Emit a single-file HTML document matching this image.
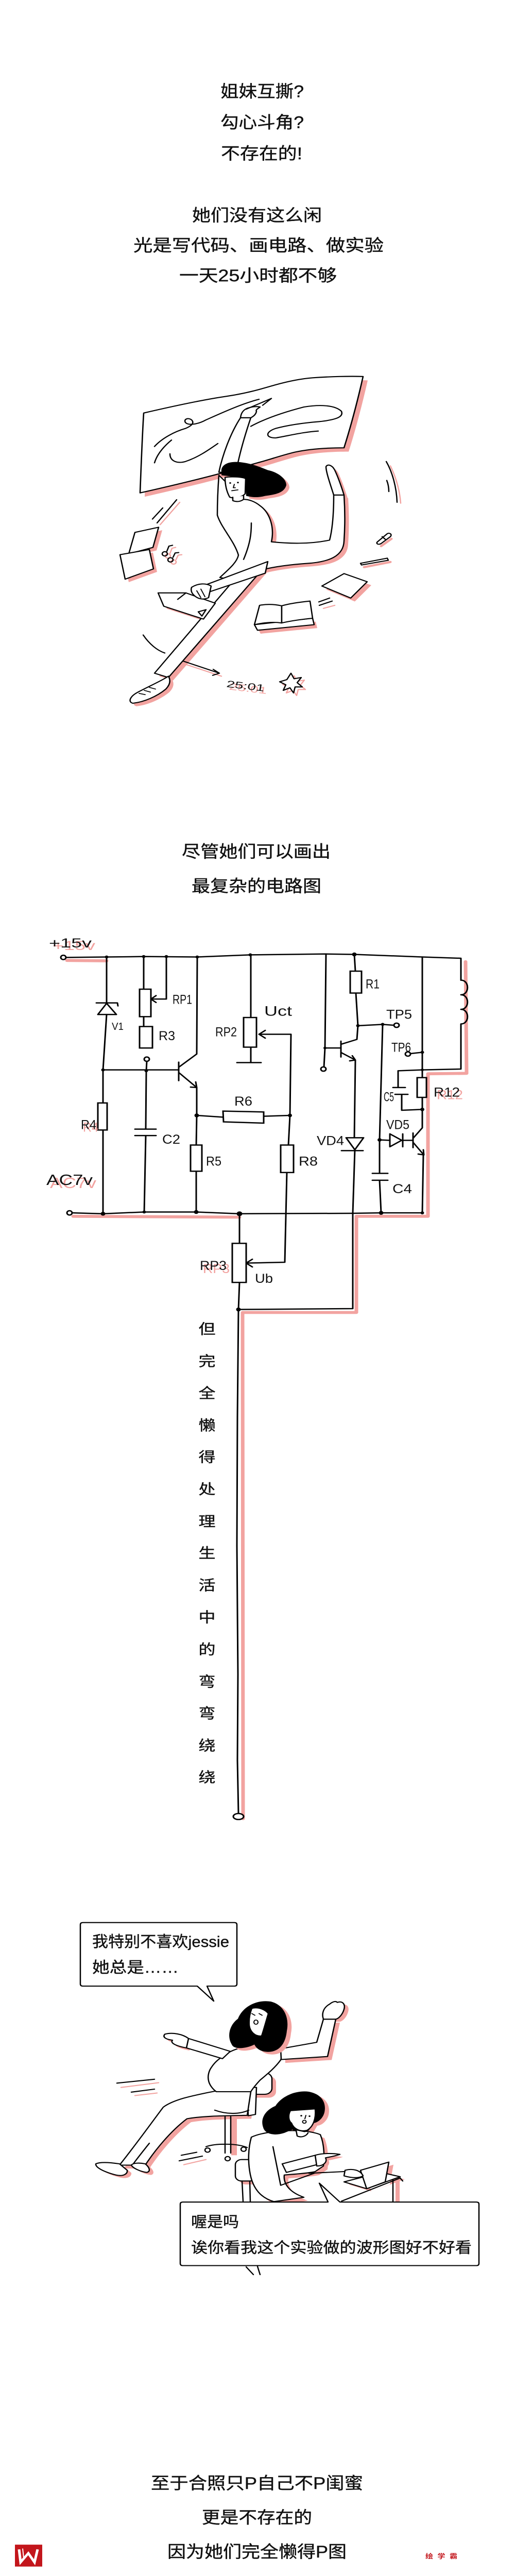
<!DOCTYPE html>
<html>
<head>
<meta charset="utf-8">
<style>
html,body{margin:0;padding:0;width:100%;height:100%;overflow:hidden;background:#fff;}
svg{position:absolute;left:0;top:0;width:100vw;height:100vh;display:block;}
.t{font-family:"Liberation Sans","Noto Sans CJK SC",sans-serif;fill:#111;stroke:#111;stroke-width:0.5px;}
.h{font-family:"Liberation Sans","Noto Sans CJK SC",sans-serif;fill:#111;}
.hp{font-family:"Liberation Sans","Noto Sans CJK SC",sans-serif;fill:#f2a3a0;}
</style>
</head>
<body>
<svg viewBox="0 0 1000 6000" preserveAspectRatio="none" xmlns="http://www.w3.org/2000/svg">
<rect x="0" y="0" width="1000" height="6000" fill="#fff"/>

<!-- ===== Top text ===== -->
<g class="t" font-size="39">
<text x="428" y="226" textLength="162" lengthAdjust="spacingAndGlyphs">姐妹互撕?</text>
<text x="428" y="298" textLength="162" lengthAdjust="spacingAndGlyphs">勾心斗角?</text>
<text x="429" y="371" textLength="158" lengthAdjust="spacingAndGlyphs">不存在的!</text>
<text x="373" y="515" textLength="252" lengthAdjust="spacingAndGlyphs">她们没有这么闲</text>
<text x="259" y="585" textLength="486" lengthAdjust="spacingAndGlyphs">光是写代码、画电路、做实验</text>
<text x="348" y="655" textLength="306" lengthAdjust="spacingAndGlyphs">一天25小时都不够</text>
</g>

<!-- ===== Illustration 1 ===== -->
<g stroke-linecap="round" stroke-linejoin="round">
<path transform="translate(9,9)" fill="#f2a3a0" stroke="none" d="M279,962 C340,945 400,930 440,923 C480,916 510,905 533,897 C560,888 585,882 607,880 C640,877 680,876 705,877 C695,930 682,990 668,1043 C630,1043 600,1046 573,1053 C548,1060 525,1070 500,1078 C470,1088 450,1096 427,1103 C380,1118 320,1135 272,1148 C274,1085 276,1020 279,962 Z"/>
<path fill="#fff" stroke="#000" stroke-width="2.6" d="M279,962 C340,945 400,930 440,923 C480,916 510,905 533,897 C560,888 585,882 607,880 C640,877 680,876 705,877 C695,930 682,990 668,1043 C630,1043 600,1046 573,1053 C548,1060 525,1070 500,1078 C470,1088 450,1096 427,1103 C380,1118 320,1135 272,1148 C274,1085 276,1020 279,962 Z"/>
<g fill="none" stroke="#000" stroke-width="2.5">
<path d="M300,1040 C315,1020 340,1005 360,998 C372,992 378,985 372,978 C366,972 356,976 360,984 C366,992 385,988 400,978 C430,962 470,940 503,930"/>
<path d="M333,1025 C318,1040 305,1058 300,1078"/>
<path d="M330,1057 C330,1075 345,1080 360,1075 C385,1065 405,1048 423,1033"/>
<path d="M487,993 C510,978 545,962 590,948 C620,942 650,943 663,958 C668,972 650,978 620,982 C590,985 560,990 535,998 C515,1006 515,1020 535,1020 C560,1015 590,1006 618,1004"/>
</g>
<g fill="none" stroke-width="2.5">
<path stroke="#f2a3a0" d="M311,1222 L349,1170"/>
<path stroke="#000" d="M296,1209 L316,1183 M305,1218 L343,1164"/>
</g>
<path transform="translate(7,7)" fill="#f2a3a0" d="M233,1292 L290,1280 L298,1325 L243,1349 Z M262,1240 L308,1228 L297,1275 L250,1290 Z"/>
<path fill="#fff" stroke="#000" stroke-width="2.5" d="M262,1240 L308,1228 L297,1275 L250,1290 Z"/>
<path fill="#fff" stroke="#000" stroke-width="2.5" d="M233,1292 L290,1280 L298,1325 L243,1349 Z"/>
<g fill="none" stroke-width="2.5">
<g stroke="#f2a3a0" transform="translate(6,5)"><circle cx="320" cy="1290" r="5"/><circle cx="331" cy="1304" r="5"/><path d="M324,1284 L328,1272 L335,1270 M336,1298 L340,1288 L347,1287"/></g>
<g stroke="#000"><circle cx="320" cy="1290" r="5"/><circle cx="331" cy="1304" r="5"/><path d="M324,1284 L328,1272 L335,1270 M336,1298 L340,1288 L347,1287"/></g>
</g>
<g fill="none" stroke-width="2.5">
<path stroke="#f2a3a0" d="M758,1085 C768,1110 776,1140 778,1172"/>
<path stroke="#000" d="M750,1075 C762,1100 770,1135 771,1170 M751,1119 C754,1128 755,1137 755,1145"/>
<path stroke="#f2a3a0" stroke-width="5" d="M740,1272 L760,1255"/>
<path stroke="#000" fill="#fff" d="M733,1262 L752,1243 C757,1240 762,1245 758,1250 L740,1266 C735,1270 729,1266 733,1262 Z M742,1250 L749,1257"/>
<path stroke="#f2a3a0" stroke-width="5" d="M707,1321 L758,1309"/>
<path stroke="#000" fill="#fff" d="M700,1312 L752,1300 L754,1305 L702,1316 Z"/>
</g>
<path transform="translate(8,8)" fill="#f2a3a0" d="M625,1365 L668,1336 L713,1355 L681,1393 Z"/>
<path fill="#fff" stroke="#000" stroke-width="2.5" d="M625,1365 L668,1336 L713,1355 L681,1393 Z"/>
<g fill="none" stroke-width="2.5">
<path stroke="#000" d="M619,1402 L640,1393 M620,1410 L645,1400"/>
<path stroke="#f2a3a0" d="M628,1417 L650,1410"/>
</g>
<path transform="translate(6,8)" fill="#f2a3a0" d="M494,1455 L500,1468 L610,1455 L607,1440 Z"/>
<g fill="#fff" stroke="#000" stroke-width="2.5">
<path d="M494,1455 L500,1468 L610,1455 L607,1440 Z"/>
<path d="M504,1410 C520,1406 535,1408 547,1411 L547,1451 C530,1448 512,1450 494,1455 Z"/>
<path d="M547,1411 C565,1405 585,1402 602,1400 L607,1440 C590,1442 565,1446 547,1451 Z"/>
</g>
<g fill="#f2a3a0">
<path transform="translate(9,7)" d="M509,1327 L327,1578 L300,1568 L455,1350 Z"/>
<path transform="translate(8,7)" d="M425,1107 C423,1140 422,1170 422,1200 C430,1230 455,1260 463,1293 C460,1310 445,1325 427,1345 L455,1352 C480,1340 495,1337 509,1327 C540,1318 575,1314 600,1312 C640,1308 667,1295 668,1260 C670,1225 670,1190 668,1153 L648,1153 C648,1190 646,1230 640,1258 C600,1268 560,1266 527,1262 C533,1230 525,1195 505,1178 C495,1168 483,1163 473,1163 Z"/>
<path transform="translate(7,7)" d="M648,1153 C642,1130 633,1100 633,1087 C636,1080 645,1083 650,1095 C656,1110 662,1130 668,1153 Z"/>
<path transform="translate(7,7)" d="M327,1575 C315,1585 290,1598 268,1612 C252,1622 248,1635 258,1638 C280,1635 305,1622 322,1605 C330,1595 332,1585 327,1575 Z"/>
<path transform="translate(6,6)" d="M307,1381 L361,1381 L418,1405 L395,1442 L318,1412 Z"/>
</g>
<path fill="#fff" stroke="#000" stroke-width="2.5" d="M425,1100 C432,1060 447,1010 467,973 L487,973 C478,1005 468,1045 462,1078 L460,1100 Z"/>
<path fill="#fff" stroke="#000" stroke-width="2.5" d="M467,973 C468,962 472,955 480,951 C490,947 500,946 505,948 C500,952 496,955 498,958 C497,965 492,970 487,973 Z"/>
<path fill="none" stroke="#000" stroke-width="2.5" d="M478,953 L527,928 L510,944"/>
<path fill="#fff" stroke="#000" stroke-width="2.5" d="M509,1327 L327,1578 L300,1568 L455,1350 Z"/>
<path fill="#fff" stroke="#000" stroke-width="2.5" d="M425,1107 C423,1140 422,1170 422,1200 C430,1230 455,1260 463,1293 C460,1310 445,1325 427,1345 L455,1352 C480,1340 495,1337 509,1327 C540,1318 575,1314 600,1312 C640,1308 667,1295 668,1260 C670,1225 670,1190 668,1153 L648,1153 C648,1190 646,1230 640,1258 C600,1268 560,1266 527,1262 C533,1230 525,1195 505,1178 C495,1168 483,1163 473,1163 Z"/>
<path fill="none" stroke="#000" stroke-width="2.5" d="M488,1218 C488,1240 487,1263 473,1303"/>
<path fill="#fff" stroke="#000" stroke-width="2.5" d="M648,1153 C642,1130 633,1100 633,1087 C636,1080 645,1083 650,1095 C656,1110 662,1130 668,1153 Z"/>
<path transform="translate(6,6)" fill="#f2a3a0" d="M430,1100 C428,1085 440,1075 460,1076 C480,1077 500,1085 520,1095 C540,1100 556,1115 556,1130 C552,1148 535,1152 515,1155 C500,1160 488,1158 478,1155 L476,1120 C470,1110 450,1110 430,1107 Z"/>
<path fill="#000" d="M430,1100 C428,1085 440,1075 460,1076 C480,1077 500,1085 520,1095 C540,1100 556,1115 556,1130 C552,1148 535,1152 515,1155 C500,1160 488,1158 478,1155 L476,1120 C470,1110 450,1110 430,1107 Z"/>
<path fill="#fff" stroke="#000" stroke-width="2.5" d="M437,1112 C445,1110 470,1110 477,1115 L476,1150 C470,1158 455,1162 446,1158 C440,1145 437,1128 437,1112 Z"/>
<circle cx="447" cy="1125" r="1.8" fill="#000"/><circle cx="462" cy="1124" r="1.8" fill="#000"/>
<path fill="none" stroke="#000" stroke-width="2" d="M455,1128 L453,1136 L457,1136 M450,1143 L462,1141"/>
<path fill="#fff" stroke="#000" stroke-width="2.5" d="M452,1158 L452,1166 C460,1170 468,1168 473,1163 L473,1155"/>
<path fill="#fff" stroke="#000" stroke-width="2.5" d="M520,1308 L400,1362 L408,1378 L515,1335 Z"/>
<path fill="#fff" stroke="#000" stroke-width="2.5" d="M307,1381 L361,1381 L418,1405 L395,1442 L318,1412 Z"/>
<path fill="none" stroke="#000" stroke-width="2.5" d="M361,1381 L345,1396 M385,1425 L400,1420 L392,1435 Z"/>
<path fill="#fff" stroke="#000" stroke-width="2.5" d="M372,1368 C385,1358 400,1358 410,1365 L405,1392 C395,1398 385,1395 378,1388 C372,1382 370,1375 372,1368 Z"/>
<path fill="none" stroke="#000" stroke-width="2" d="M382,1376 L390,1392 M390,1372 L398,1390"/>
<path fill="#fff" stroke="#000" stroke-width="2.5" d="M327,1575 C315,1585 290,1598 268,1612 C252,1622 248,1635 258,1638 C280,1635 305,1622 322,1605 C330,1595 332,1585 327,1575 Z"/>
<path fill="none" stroke="#000" stroke-width="2" d="M270,1615 L282,1618 M280,1608 L292,1612 M290,1601 L302,1605"/>
<g fill="none" stroke-width="2.5">
<path stroke="#000" d="M278,1479 C290,1500 305,1515 320,1521"/>
<path stroke="#f2a3a0" d="M362,1548 L430,1575"/>
<path stroke="#000" d="M356,1540 L426,1568 M414,1559 L426,1568 L413,1573"/>
</g>
<text x="444" y="1606" font-size="22" class="hp" transform="rotate(8 444 1606)" textLength="74" lengthAdjust="spacingAndGlyphs">25:01</text>
<text x="439" y="1600" font-size="22" class="h" transform="rotate(8 439 1600)" textLength="74" lengthAdjust="spacingAndGlyphs">25:01</text>
<path transform="translate(6,6)" fill="none" stroke="#f2a3a0" stroke-width="2.5" d="M565,1568 L571,1581 L585,1578 L577,1590 L587,1600 L573,1600 L570,1614 L563,1602 L550,1608 L555,1595 L543,1588 L557,1583 Z"/>
<path fill="#fff" stroke="#000" stroke-width="2.5" d="M565,1568 L571,1581 L585,1578 L577,1590 L587,1600 L573,1600 L570,1614 L563,1602 L550,1608 L555,1595 L543,1588 L557,1583 Z"/>
</g>

<!-- ===== Middle text ===== -->
<g class="t" font-size="39">
<text x="353" y="1997" textLength="289" lengthAdjust="spacingAndGlyphs">尽管她们可以画出</text>
<text x="372" y="2077" textLength="252" lengthAdjust="spacingAndGlyphs">最复杂的电路图</text>
</g>

<!-- ===== Circuit ===== -->
<g fill="none" stroke="#f2a3a0" stroke-width="7" stroke-linecap="round" stroke-linejoin="round">
<path d="M130,2237 L207,2238"/>
<path d="M142,2833 L465,2835"/>
<path d="M904,2240 L906,2500 L831,2501 L831,2833 L692,2833 L692,3057 L471,3057 L472,4236"/>
</g>
<g fill="none" stroke="#000" stroke-width="3" stroke-linecap="round" stroke-linejoin="round">
<path d="M128,2230 L207,2229 L280,2228 L383,2229 L486,2224 L633,2222 L688,2223 L820,2229 L895,2232 L895,2283"/>
<circle cx="123" cy="2230" r="5" fill="#fff"/>
<path d="M207,2229 L207,2337 M207,2363 L200,2492 L200,2827"/>
<path d="M190,2363 L226,2363 L207,2337 Z"/>
<path d="M187,2336 L228,2336 L229,2343"/>
<path d="M200,2492 L347,2492"/>
<path d="M279,2228 L279,2304 M279,2368 L279,2391"/>
<path d="M323,2228 L323,2327 L293,2327 M303,2319 L293,2327 L303,2335"/>
<circle cx="285" cy="2467" r="5" fill="#fff"/>
<path d="M285,2472 L284,2494 L283,2630 M262,2630 L303,2630 M262,2645 L303,2645 M283,2645 L280,2823"/>
<path d="M347,2474 L347,2517 M348,2485 L382,2455 L383,2229 M348,2499 L382,2533 M370,2532 L382,2533 L380,2520 M382,2533 L382,2598 L433,2602 M512,2600 L563,2598"/>
<path d="M382,2598 L381,2667 M381,2728 L381,2823"/>
<circle cx="135" cy="2825" r="5" fill="#fff"/>
<path d="M140,2825 L200,2827 L280,2823 L381,2823 L465,2827 L685,2826 L740,2825 L820,2825"/>
<path d="M487,2224 L487,2370 M487,2439 L487,2475 M460,2475 L507,2475"/>
<path d="M503,2409 L565,2409 L563,2598 M515,2400 L503,2409 L515,2418"/>
<path d="M563,2598 L560,2667 M557,2731 L553,2940 L478,2942 M490,2933 L478,2942 L490,2951"/>
<path d="M465,2827 L465,2896 M465,2987 L463,3050"/>
<path d="M463,3050 L685,3048 L685,2826"/>
<path d="M463,3050 L461,3300 L460,3600 L462,3900 L461,4100 L463,4224"/>
<ellipse cx="463" cy="4231" rx="10" ry="7" fill="#fff"/>
<path d="M633,2222 L631,2441 L629,2485 M631,2441 L662,2441"/>
<circle cx="628" cy="2490" r="5" fill="#fff"/>
<path d="M662,2425 L662,2462 M663,2432 L693,2421 L695,2389 M663,2452 L690,2469 M679,2471 L690,2469 L684,2459 M690,2469 L688,2650 M689,2678 L685,2826"/>
<path d="M672,2650 L706,2650 L689,2678 Z M663,2680 L705,2680"/>
<path d="M688,2223 L690,2262 M691,2313 L695,2389 L743,2386 L765,2388"/>
<circle cx="770" cy="2388" r="5" fill="#fff"/>
<path d="M743,2386 L737,2655 L737,2733 M723,2733 L753,2733 M723,2749 L753,2749 M737,2749 L740,2825"/>
<path d="M737,2655 L757,2656 M757,2641 L757,2671 L780,2656 Z M782,2641 L782,2671 M782,2656 L802,2656"/>
<path d="M802,2639 L802,2673 M803,2650 L820,2627 L820,2584 M803,2662 L823,2690 M812,2688 L823,2690 L822,2678 M822,2690 L820,2825"/>
<path d="M820,2229 L820,2510 M820,2556 L820,2584"/>
<path d="M797,2454 L820,2451"/>
<circle cx="792" cy="2455" r="5" fill="#fff"/>
<path d="M773,2494 L820,2492 M773,2494 L773,2533 M763,2533 L787,2533 M767,2549 L792,2549 M780,2549 L780,2586 L820,2584"/>
<path d="M895,2283 C912,2283 912,2317 895,2317 C912,2317 912,2351 895,2351 C912,2351 912,2385 895,2385 L895,2490 L820,2492"/>
</g>
<g fill="#fff" stroke="#000" stroke-width="3">
<rect x="190" y="2569" width="18" height="63"/>
<rect x="271" y="2304" width="22" height="64"/>
<rect x="271" y="2391" width="25" height="50"/>
<path d="M433,2588 L512,2590 L512,2616 L434,2613 Z"/>
<rect x="370" y="2667" width="22" height="61"/>
<rect x="473" y="2370" width="25" height="69"/>
<rect x="545" y="2667" width="25" height="64"/>
<rect x="451" y="2896" width="27" height="91"/>
<rect x="680" y="2262" width="22" height="51"/>
<rect x="810" y="2510" width="18" height="46"/>
</g>
<g fill="#000">
<circle cx="207" cy="2229" r="3.5"/><circle cx="279" cy="2228" r="3.5"/><circle cx="323" cy="2228" r="3.5"/>
<circle cx="383" cy="2229" r="3.5"/><circle cx="486" cy="2224" r="3.5"/><circle cx="688" cy="2223" r="4.5"/>
<circle cx="200" cy="2492" r="3.5"/><circle cx="284" cy="2494" r="3.5"/><circle cx="382" cy="2598" r="4.5"/>
<circle cx="563" cy="2598" r="4"/><circle cx="200" cy="2827" r="4.5"/><circle cx="280" cy="2823" r="3.5"/>
<circle cx="381" cy="2823" r="4.5"/><circle cx="465" cy="2827" r="5.5"/><circle cx="740" cy="2825" r="4.5"/>
<circle cx="820" cy="2825" r="3.5"/><circle cx="695" cy="2389" r="3.5"/><circle cx="743" cy="2386" r="3.5"/>
<circle cx="737" cy="2655" r="4"/><circle cx="820" cy="2584" r="4"/><circle cx="820" cy="2451" r="3.5"/>
<circle cx="463" cy="3050" r="4.5"/><circle cx="631" cy="2441" r="3"/><circle cx="820" cy="2492" r="3"/>
</g>
<g font-size="30">
<text class="hp" x="102" y="2213" textLength="83" lengthAdjust="spacingAndGlyphs">+15v</text>
<text class="h" x="95" y="2207" textLength="83" lengthAdjust="spacingAndGlyphs">+15v</text>
<text class="hp" x="97" y="2767" font-size="34" textLength="90" lengthAdjust="spacingAndGlyphs">AC7v</text>
<text class="h" x="90" y="2760" font-size="34" textLength="90" lengthAdjust="spacingAndGlyphs">AC7v</text>
<text class="hp" x="161" y="2636" textLength="30" lengthAdjust="spacingAndGlyphs">R4</text>
<text class="h" x="157" y="2630" textLength="30" lengthAdjust="spacingAndGlyphs">R4</text>
<text class="hp" x="394" y="2965" textLength="52" lengthAdjust="spacingAndGlyphs">RP3</text>
<text class="h" x="388" y="2958" textLength="52" lengthAdjust="spacingAndGlyphs">RP3</text>
<text class="hp" x="848" y="2560" textLength="51" lengthAdjust="spacingAndGlyphs">R12</text>
<text class="h" x="842" y="2554" textLength="51" lengthAdjust="spacingAndGlyphs">R12</text>
<text class="h" x="217" y="2399" font-size="24" textLength="23" lengthAdjust="spacingAndGlyphs">V1</text>
<text class="h" x="335" y="2338" textLength="38" lengthAdjust="spacingAndGlyphs">RP1</text>
<text class="h" x="308" y="2423" textLength="32" lengthAdjust="spacingAndGlyphs">R3</text>
<text class="h" x="315" y="2664" textLength="35" lengthAdjust="spacingAndGlyphs">C2</text>
<text class="h" x="455" y="2575" textLength="35" lengthAdjust="spacingAndGlyphs">R6</text>
<text class="h" x="400" y="2715" textLength="30" lengthAdjust="spacingAndGlyphs">R5</text>
<text class="h" x="418" y="2414" textLength="42" lengthAdjust="spacingAndGlyphs">RP2</text>
<text class="h" x="513" y="2366" font-size="32" textLength="54" lengthAdjust="spacingAndGlyphs">Uct</text>
<text class="h" x="580" y="2715" textLength="37" lengthAdjust="spacingAndGlyphs">R8</text>
<text class="h" x="495" y="2988" textLength="35" lengthAdjust="spacingAndGlyphs">Ub</text>
<text class="h" x="710" y="2302" textLength="27" lengthAdjust="spacingAndGlyphs">R1</text>
<text class="h" x="750" y="2373" textLength="50" lengthAdjust="spacingAndGlyphs">TP5</text>
<text class="h" x="760" y="2450" textLength="38" lengthAdjust="spacingAndGlyphs">TP6</text>
<text class="h" x="745" y="2565" textLength="20" lengthAdjust="spacingAndGlyphs">C5</text>
<text class="h" x="750" y="2630" textLength="45" lengthAdjust="spacingAndGlyphs">VD5</text>
<text class="h" x="615" y="2667" textLength="53" lengthAdjust="spacingAndGlyphs">VD4</text>
<text class="h" x="762" y="2779" textLength="38" lengthAdjust="spacingAndGlyphs">C4</text>
</g>

<!-- ===== Vertical column text ===== -->
<g class="t" font-size="33" text-anchor="middle">
<text x="402" y="3107">但</text>
<text x="402" y="3182">完</text>
<text x="402" y="3256">全</text>
<text x="402" y="3331">懒</text>
<text x="402" y="3405">得</text>
<text x="402" y="3480">处</text>
<text x="402" y="3555">理</text>
<text x="402" y="3629">生</text>
<text x="402" y="3704">活</text>
<text x="402" y="3778">中</text>
<text x="402" y="3853">的</text>
<text x="402" y="3928">弯</text>
<text x="402" y="4002">弯</text>
<text x="402" y="4077">绕</text>
<text x="402" y="4151">绕</text>
</g>

<!-- ===== Illustration 2 ===== -->
<g stroke-linecap="round" stroke-linejoin="round">
<path fill="#fff" stroke="#000" stroke-width="2.5" d="M161,4478 L455,4478 Q460,4478 460,4483 L460,4621 Q460,4626 455,4626 L402,4626 L415,4661 L383,4626 L161,4626 Q156,4626 156,4621 L156,4483 Q156,4478 161,4478 Z"/>
<g fill="none" stroke-width="2.5">
<path stroke="#f2a3a0" d="M235,4862 L308,4851 M262,4881 L305,4875 M357,5042 L400,5030"/>
<path stroke="#000" d="M227,4852 L300,4843 M255,4873 L300,4866 M352,5020 L382,5013 M348,5033 L393,5022"/>
</g>
<g fill="#f2a3a0">
<path transform="translate(8,8)" d="M420,4870 C380,4880 340,4888 317,4908 C292,4948 262,4998 232,5043 L282,5043 C300,5010 330,4965 363,4935 C395,4928 440,4928 480,4927 L487,4872 Z"/>
<path transform="translate(8,8)" d="M545,4772 L615,4757 L628,4703 L652,4703 L636,4790 L546,4797 Z"/>
<path transform="translate(8,6)" d="M628,4703 C624,4690 628,4676 640,4668 C646,4662 652,4660 655,4664 C665,4660 671,4668 668,4680 C665,4693 657,4702 652,4703 Z"/>
<path transform="translate(6,6)" d="M366,4748 C355,4738 335,4733 320,4738 C315,4745 322,4750 335,4752 C330,4758 340,4765 362,4770 Z"/>
<rect x="466" y="4836" width="70" height="50" rx="14"/>
<path transform="translate(8,6)" d="M232,5040 C215,5037 195,5035 186,5040 C185,5048 200,5058 225,5066 C240,5070 248,5063 247,5055 Z M282,5040 C270,5037 258,5038 255,5043 C258,5050 272,5058 285,5060 C292,5058 292,5050 282,5040 Z"/>
<rect x="449" y="4935" width="11" height="85"/>
</g>
<g fill="#fff" stroke="#000" stroke-width="2.5">
<path fill="none" d="M437,4930 L437,5015 M448,4930 L448,5015 M400,5000 C420,4992 460,4992 480,5002"/>
<circle cx="403" cy="5008" r="5"/><circle cx="473" cy="5006" r="5"/><circle cx="442" cy="5028" r="5"/>
<rect x="458" y="4828" width="70" height="50" rx="14"/>
<path d="M480,4862 L498,4862 L496,4925 L482,4928 Z"/>
</g>
<g fill="#fff" stroke="#000" stroke-width="2.5">
<path d="M420,4870 C380,4880 340,4888 317,4908 C292,4948 262,4998 232,5043 L282,5043 C300,5010 330,4965 363,4935 C395,4928 440,4928 480,4927 L487,4872 Z"/>
<path fill="none" d="M290,4992 C278,5010 266,5028 257,5043 M417,4915 C440,4925 465,4925 483,4915"/>
<path d="M232,5040 C215,5037 195,5035 186,5040 C185,5048 200,5058 225,5066 C240,5070 248,5063 247,5055 Z"/>
<path d="M282,5040 C270,5037 258,5038 255,5043 C258,5050 272,5058 285,5060 C292,5058 292,5050 282,5040 Z"/>
<path d="M430,4792 C445,4778 460,4770 480,4768 L545,4772 C548,4782 548,4790 545,4798 C535,4815 520,4830 505,4845 C495,4858 490,4866 487,4872 L420,4872 C405,4858 400,4840 408,4820 C414,4808 420,4800 430,4792 Z"/>
<path d="M432,4795 L362,4770 L366,4748 L447,4778 Z"/>
<path d="M366,4748 C355,4738 335,4733 320,4738 C315,4745 322,4750 335,4752 C330,4758 340,4765 362,4770 Z"/>
<path d="M545,4772 L615,4757 L628,4703 L652,4703 L636,4790 L546,4797 Z"/>
<path d="M628,4703 C624,4690 628,4676 640,4668 C646,4662 652,4660 655,4664 C665,4660 671,4668 668,4680 C665,4693 657,4702 652,4703 Z"/>
</g>
<path transform="translate(8,6)" fill="#f2a3a0" d="M450,4762 C440,4742 446,4716 462,4702 C472,4672 500,4657 526,4662 C552,4670 562,4700 557,4730 C555,4755 546,4776 525,4779 C508,4781 498,4772 494,4762 C482,4770 455,4776 450,4762 Z"/>
<path fill="#000" d="M450,4762 C440,4742 446,4716 462,4702 C472,4672 500,4657 526,4662 C552,4670 562,4700 557,4730 C555,4755 546,4776 525,4779 C508,4781 498,4772 494,4762 C482,4770 455,4776 450,4762 Z"/>
<path fill="#fff" stroke="#000" stroke-width="2.5" d="M489,4678 C500,4674 515,4680 521,4690 C516,4710 512,4728 508,4742 C496,4744 486,4733 484,4718 C483,4703 485,4690 489,4678 Z"/>
<ellipse cx="497" cy="4710" rx="4" ry="5" fill="#fff" stroke="#000" stroke-width="2"/>
<path fill="none" stroke="#000" stroke-width="2" d="M489,4690 L495,4694 M503,4690 L509,4694"/>

<g fill="#f2a3a0">
<path transform="translate(8,8)" d="M488,4978 C515,4962 590,4956 622,4972 C630,4995 630,5025 628,5045 L612,5058 C600,5062 570,5064 552,5066 C550,5085 560,5105 590,5118 L532,5128 C508,5120 492,5100 486,5065 C481,5035 482,5003 488,4978 Z"/>
<path transform="translate(8,6)" d="M511,4955 C505,4935 515,4915 535,4905 C547,4882 575,4868 600,4872 C625,4878 634,4898 630,4920 C627,4935 616,4945 608,4945 L600,4962 C590,4970 575,4968 568,4960 L552,4968 C532,4976 514,4970 511,4955 Z"/>
<path transform="translate(9,6)" d="M668,5082 L712,5098 L777,5070 L740,5060 Z M700,5055 L755,5036 L748,5082 L712,5098 Z"/>
<rect x="768" y="5078" width="8" height="50"/>
<rect x="465" y="5038" width="40" height="50" rx="12"/>
<path transform="translate(6,6)" d="M612,5020 C625,5015 645,5015 660,5018 C650,5022 640,5024 632,5026 C636,5034 630,5045 615,5045 Z"/>
</g>
<g fill="#fff" stroke="#000" stroke-width="2.5">
<rect x="457" y="5030" width="40" height="50" rx="12"/>
<path fill="none" d="M470,5080 L472,5128 M485,5080 L486,5128"/>
<path d="M488,4978 C515,4962 590,4956 622,4972 C630,4995 630,5025 628,5045 L612,5058 C600,5062 570,5064 552,5066 C550,5085 560,5105 590,5118 L532,5128 C508,5120 492,5100 486,5065 C481,5035 482,5003 488,4978 Z"/>
<path fill="none" d="M530,5000 L545,5090 L610,5062 M600,5062 L668,5058"/>
<path d="M548,5040 L612,5020 L615,5042 L556,5060 Z"/>
<path d="M612,5020 C625,5015 645,5015 660,5018 C650,5022 640,5024 632,5026 C636,5034 630,5045 615,5045 Z"/>
<path d="M668,5082 L712,5098 L777,5070 L740,5060 Z"/>
<path d="M712,5098 L700,5055 L755,5036 L748,5082 Z"/>
<path d="M670,5055 C685,5050 700,5055 705,5068 C695,5075 680,5072 668,5068 Z"/>
<path fill="none" d="M663,5127 L777,5073 L782,5080 M763,5078 L763,5128"/>
</g>
<path fill="#000" d="M511,4955 C505,4935 515,4915 535,4905 C547,4882 575,4868 600,4872 C625,4878 634,4898 630,4920 C627,4935 616,4945 608,4945 L600,4962 C590,4970 575,4968 568,4960 L552,4968 C532,4976 514,4970 511,4955 Z"/>
<path fill="#fff" stroke="#000" stroke-width="2.5" d="M564,4916 L612,4912 C614,4935 608,4954 596,4962 C582,4966 570,4958 566,4945 C560,4940 559,4926 564,4916 Z"/>
<circle cx="585" cy="4928" r="1.8" fill="#000"/><circle cx="601" cy="4929" r="1.8" fill="#000"/>
<circle cx="591" cy="4942" r="3.5" fill="#fff" stroke="#000" stroke-width="2"/>
<path fill="none" stroke="#000" stroke-width="2" d="M594,4927 L592,4935"/>
<path fill="#fff" stroke="#000" stroke-width="2.5" d="M575,4962 L577,4975 C585,4980 595,4975 598,4968"/>

<path fill="#fff" stroke="#000" stroke-width="2.5" d="M355,5129 L637,5129 L620,5085 L660,5129 L925,5129 Q930,5129 930,5134 L930,5272 Q930,5277 925,5277 L355,5277 Q350,5277 350,5272 L350,5134 Q350,5129 355,5129 Z"/>
<path fill="none" stroke="#000" stroke-width="2.5" d="M478,5280 L492,5298 M500,5279 L505,5298"/>
</g>

<g class="t">
<text x="179" y="4535" font-size="36" textLength="266" lengthAdjust="spacingAndGlyphs">我特别不喜欢jessie</text>
<text x="179" y="4595" font-size="36" textLength="168" lengthAdjust="spacingAndGlyphs">她总是……</text>
<text x="371" y="5187" font-size="35" textLength="93" lengthAdjust="spacingAndGlyphs">喔是吗</text>
<text x="371" y="5247" font-size="35" textLength="545" lengthAdjust="spacingAndGlyphs">诶你看我这个实验做的波形图好不好看</text>
</g>

<!-- ===== Footer ===== -->
<g class="t" font-size="39">
<text x="293" y="5797" textLength="412" lengthAdjust="spacingAndGlyphs">至于合照只P自己不P闺蜜</text>
<text x="392" y="5877" textLength="214" lengthAdjust="spacingAndGlyphs">更是不存在的</text>
<text x="325" y="5957" textLength="348" lengthAdjust="spacingAndGlyphs">因为她们完全懒得P图</text>
</g>
<rect x="29" y="5927" width="53" height="51" fill="#c3161c"/>
<path fill="none" stroke="#fff" stroke-width="5" stroke-linejoin="miter" d="M37,5938 L40,5968 L55,5947 L67,5968 L73,5938"/>
<path fill="none" stroke="#fff" stroke-width="2" d="M44,5936 L46,5958"/>
<text x="826" y="5959" font-size="15" font-weight="bold" fill="#c3161c" font-family="'Liberation Sans','Noto Sans CJK SC',sans-serif" textLength="62" lengthAdjust="spacing">绘学霸</text>
</svg>
</body>
</html>
